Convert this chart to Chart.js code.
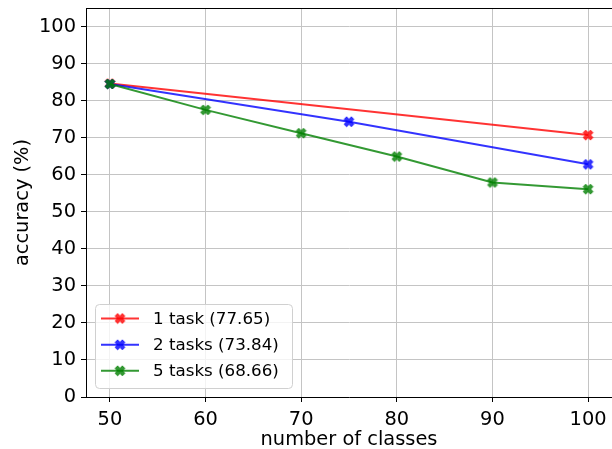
<!DOCTYPE html>
<html>
<head>
<meta charset="utf-8">
<script src="https://cdn.jsdelivr.net/npm/chart.js@4/dist/chart.umd.min.js"></script>
<style>
  html, body { margin: 0; padding: 0; background: #fff; overflow: hidden; }
  #wrap { width: 612px; height: 449px; }
</style>
</head>
<body>
<div id="wrap"><canvas id="c" width="612" height="449"></canvas></div>
<script>
// ---- data ----
const seriesLabels = ['1 task (77.65)', '2 tasks (73.84)', '5 tasks (68.66)'];
const task1X = [50, 100];
const task1Y = [84.6, 70.7];
const task2X = [50, 75, 100];
const task2Y = [84.5, 74.3, 62.8];
const task5X = [50, 60, 70, 80, 90, 100];
const task5Y = [84.5, 77.5, 71.2, 64.9, 57.9, 56.1];
const xTicks = [50, 60, 70, 80, 90, 100];
const yTicks = [0, 10, 20, 30, 40, 50, 60, 70, 80, 90, 100];

const colors = ['rgba(255,0,0,0.8)', 'rgba(0,0,255,0.8)', 'rgba(0,128,0,0.8)'];
const FONT = '"DejaVu Sans", sans-serif';

function xMarker(color) {
  const s = 14, c = document.createElement('canvas');
  c.width = s; c.height = s;
  const g = c.getContext('2d');
  const h = s / 2, a = 4.9, w = 2.5;
  g.translate(h, h);
  g.beginPath();
  g.moveTo(-a + w, -a); g.lineTo(0, -w); g.lineTo(a - w, -a); g.lineTo(a, -a + w);
  g.lineTo(w, 0); g.lineTo(a, a - w); g.lineTo(a - w, a); g.lineTo(0, w);
  g.lineTo(-a + w, a); g.lineTo(-a, a - w); g.lineTo(-w, 0); g.lineTo(-a, -a + w);
  g.closePath();
  g.fillStyle = color;
  g.fill();
  g.lineWidth = 1; g.strokeStyle = color; g.stroke();
  return c;
}
const markers = colors.map(xMarker);

function pts(xs, ys) { return xs.map((x, i) => ({ x: x, y: ys[i] })); }

const datasets = [
  { label: seriesLabels[0], data: pts(task1X, task1Y), order: 2 },
  { label: seriesLabels[1], data: pts(task2X, task2Y), order: 1 },
  { label: seriesLabels[2], data: pts(task5X, task5Y), order: 0 }
].map((d, i) => Object.assign(d, {
  borderColor: colors[i], backgroundColor: colors[i], borderWidth: 2,
  pointStyle: markers[i], pointRadius: 7, pointHoverRadius: 7, tension: 0, fill: false
}));

const frame = {
  id: 'frame',
  afterDraw(chart) {
    const ctx = chart.ctx, a = chart.chartArea;
    ctx.save();
    ctx.strokeStyle = '#000'; ctx.lineWidth = 1;
    ctx.beginPath(); ctx.moveTo(a.left, a.top + 0.5); ctx.lineTo(a.right, a.top + 0.5); ctx.stroke();
    // legend
    const bx = 95.5, by = 304.5, bw = 197, bh = 84, r = 4;
    ctx.beginPath();
    ctx.moveTo(bx + r, by); ctx.lineTo(bx + bw - r, by); ctx.quadraticCurveTo(bx + bw, by, bx + bw, by + r);
    ctx.lineTo(bx + bw, by + bh - r); ctx.quadraticCurveTo(bx + bw, by + bh, bx + bw - r, by + bh);
    ctx.lineTo(bx + r, by + bh); ctx.quadraticCurveTo(bx, by + bh, bx, by + bh - r);
    ctx.lineTo(bx, by + r); ctx.quadraticCurveTo(bx, by, bx + r, by);
    ctx.closePath();
    ctx.fillStyle = 'rgba(255,255,255,0.8)'; ctx.fill();
    ctx.strokeStyle = '#d0d0d0'; ctx.stroke();
    const rows = [318.5, 344.8, 370.8];
    chart.data.datasets.forEach((d, i) => {
      const y = rows[i];
      ctx.strokeStyle = colors[i]; ctx.lineWidth = 2;
      ctx.beginPath(); ctx.moveTo(101, y); ctx.lineTo(139, y); ctx.stroke();
      ctx.drawImage(markers[i], 120 - 7, y - 7);
      ctx.fillStyle = '#000';
      ctx.font = '16.7px ' + FONT;
      ctx.textBaseline = 'middle'; ctx.textAlign = 'left';
      ctx.fillText(d.label, 153, y + 1);
    });
    ctx.restore();
  }
};

new Chart(document.getElementById('c'), {
  type: 'line',
  data: { datasets: datasets },
  plugins: [frame],
  options: {
    responsive: false, animation: false,
    layout: { autoPadding: false, padding: { top: 8, right: 0, left: 0, bottom: 0 } },
    plugins: { legend: { display: false }, tooltip: { enabled: false } },
    scales: {
      x: {
        type: 'linear', min: 47.5, max: 102.5,
        afterBuildTicks: s => { s.ticks = xTicks.map(v => ({ value: v })); },
        afterFit: s => { s.height = 52; s.paddingLeft = 0; s.paddingRight = 0; },
        ticks: { color: '#000', font: { family: FONT, size: 19.4 }, padding: 6, maxRotation: 0 },
        grid: { color: '#c4c4c4', lineWidth: 1, tickColor: '#000', tickLength: 5 },
        border: { color: '#000', width: 1 },
        title: { display: true, text: 'number of classes', color: '#000', font: { family: FONT, size: 19.4 }, padding: { top: 0, bottom: -3 } }
      },
      y: {
        type: 'linear', min: 0, max: 105,
        afterBuildTicks: s => { s.ticks = yTicks.map(v => ({ value: v })); },
        afterFit: s => { s.width = 86; s.paddingTop = 0; s.paddingBottom = 0; },
        ticks: { color: '#000', font: { family: FONT, size: 19.4 }, padding: 5 },
        grid: { color: '#c4c4c4', lineWidth: 1, tickColor: '#000', tickLength: 5 },
        border: { color: '#000', width: 1 },
        title: { display: true, text: 'accuracy (%)', color: '#000', font: { family: FONT, size: 19.4 }, padding: { top: 11, bottom: 0 } }
      }
    }
  }
});
</script>
</body>
</html>
